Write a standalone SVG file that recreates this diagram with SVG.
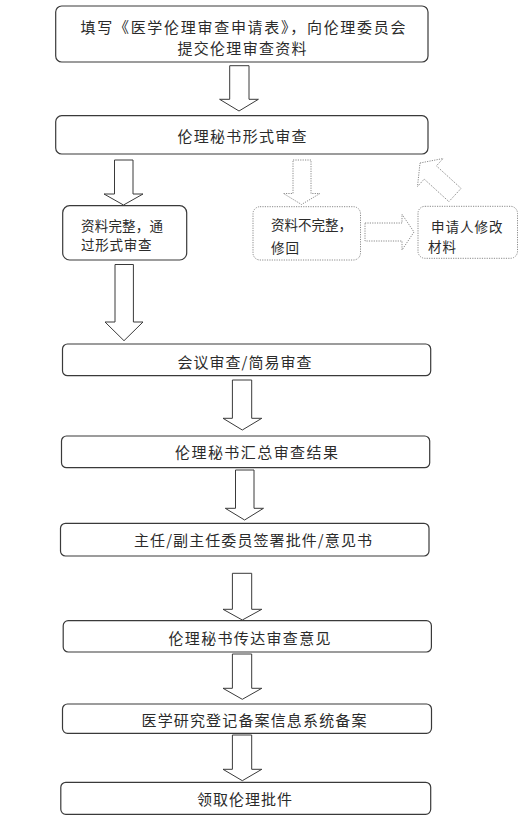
<svg xmlns="http://www.w3.org/2000/svg" width="531" height="822" viewBox="0 0 531 822">
<style>
.box{fill:#fff;stroke:#3a3a3a;stroke-width:1.2}
.dbox{fill:#fff;stroke:#8a8a8a;stroke-width:1;stroke-dasharray:1.2 1.2}
.arr{fill:#fff;stroke:#3a3a3a;stroke-width:1}
.darr{fill:#fff;stroke:#8a8a8a;stroke-width:1;stroke-dasharray:1.2 1.2}
text{font-family:"Noto Sans CJK SC","Liberation Sans",sans-serif;fill:#2b2b2b}
.t{font-size:15px}
.s{font-size:13.5px}
</style>
<rect width="531" height="822" fill="#fff"/>
<g id="connectors">
<polygon class="arr" points="229.7,65.7 249,65.7 249,99.3 258.4,99.3 239,111 219.6,99.3 229.7,99.3"/>
<polygon class="arr" points="114.5,160 133,160 133,194 143,194 123.5,205 104,194 114.5,194"/>
<polygon class="arr" points="115,264.5 133.4,264.5 133.4,322 143,322 124,340.7 105,322 115,322"/>
<polygon class="darr" points="293,160 311,160 311,193.5 320,193.5 301.5,204.5 283.5,193.5 293,193.5"/>
<polygon class="darr" points="365,223 402,223 402,214.3 414,232 402,250 402,241 365,241"/>
<polygon class="darr" points="420,163 443.1,158.5 436.4,165.9 461.1,188.4 448.9,201.6 424.2,179.1 417.5,186.5"/>
<polygon class="arr" points="232.4,380 251.7,380 251.7,418.3 261.8,418.3 242.3,430 223,418.3 232.4,418.3"/>
<polygon class="arr" points="235.5,470 254,470 254,508.3 263.5,508.3 244.6,520 225.3,508.3 235.5,508.3"/>
<polygon class="arr" points="232.4,573.3 251.7,573.3 251.7,609.3 261.8,609.3 242.3,620 223,609.3 232.4,609.3"/>
<polygon class="arr" points="232.4,654 251.7,654 251.7,688.3 261.8,688.3 242.3,699.3 223,688.3 232.4,688.3"/>
<polygon class="arr" points="232.4,735 251.7,735 251.7,769.3 261.8,769.3 242.3,780.7 223,769.3 232.4,769.3"/>
</g>
<g id="n1">
<rect class="box" x="55.7" y="6" width="372.3" height="56" rx="6"/>
<text class="t" x="80.5" y="32.6" textLength="325" lengthAdjust="spacing">填写《医学伦理审查申请表》，向伦理委员会</text>
<text class="t" x="177.5" y="53.6" textLength="129" lengthAdjust="spacing">提交伦理审查资料</text>
</g>
<g id="n2">
<rect class="box" x="55.7" y="115.7" width="372.3" height="38.3" rx="6"/>
<text class="t" x="177.5" y="141.6" textLength="129" lengthAdjust="spacing">伦理秘书形式审查</text>
</g>
<g id="n3">
<rect class="box" x="62.7" y="205.7" width="124" height="54.3" rx="7"/>
<text class="s" x="81" y="231" textLength="82" lengthAdjust="spacing">资料完整，通</text>
<text class="s" x="81" y="249.5" textLength="70.5" lengthAdjust="spacing">过形式审查</text>
</g>
<g id="n4">
<rect class="dbox" x="253" y="206.7" width="107.5" height="53.3" rx="7"/>
<text class="s" x="271" y="230" textLength="81" lengthAdjust="spacing">资料不完整，</text>
<text class="s" x="271" y="253.3" textLength="28" lengthAdjust="spacing">修回</text>
</g>
<g id="n5">
<rect class="dbox" x="418" y="206.3" width="99.5" height="52" rx="7"/>
<text class="s" x="431" y="232.3" textLength="71.5" lengthAdjust="spacing">申请人修改</text>
<text class="s" x="428" y="251.7" textLength="28" lengthAdjust="spacing">材料</text>
</g>
<g id="n6">
<rect class="box" x="62.5" y="344" width="368.2" height="31.7" rx="5"/>
<text class="t" x="177.5" y="368.3" textLength="134" lengthAdjust="spacing">会议审查/简易审查</text>
</g>
<g id="n7">
<rect class="box" x="61.5" y="436" width="368.2" height="31.7" rx="5"/>
<text class="t" x="175" y="458.3" textLength="163" lengthAdjust="spacing">伦理秘书汇总审查结果</text>
</g>
<g id="n8">
<rect class="box" x="60.5" y="523.3" width="368.5" height="32.7" rx="5"/>
<text class="t" x="134" y="545.6" textLength="238" lengthAdjust="spacing">主任/副主任委员签署批件/意见书</text>
</g>
<g id="n9">
<rect class="box" x="63.2" y="620.7" width="368.2" height="31.3" rx="5"/>
<text class="t" x="168.5" y="643.9" textLength="162" lengthAdjust="spacing">伦理秘书传达审查意见</text>
</g>
<g id="n10">
<rect class="box" x="62.5" y="704" width="369" height="29.3" rx="5"/>
<text class="t" x="141.5" y="725.6" textLength="225" lengthAdjust="spacing">医学研究登记备案信息系统备案</text>
</g>
<g id="n11">
<rect class="box" x="60.8" y="782.3" width="369.9" height="32" rx="5"/>
<text class="t" x="197" y="804.9" textLength="95" lengthAdjust="spacing">领取伦理批件</text>
</g>
</svg>
